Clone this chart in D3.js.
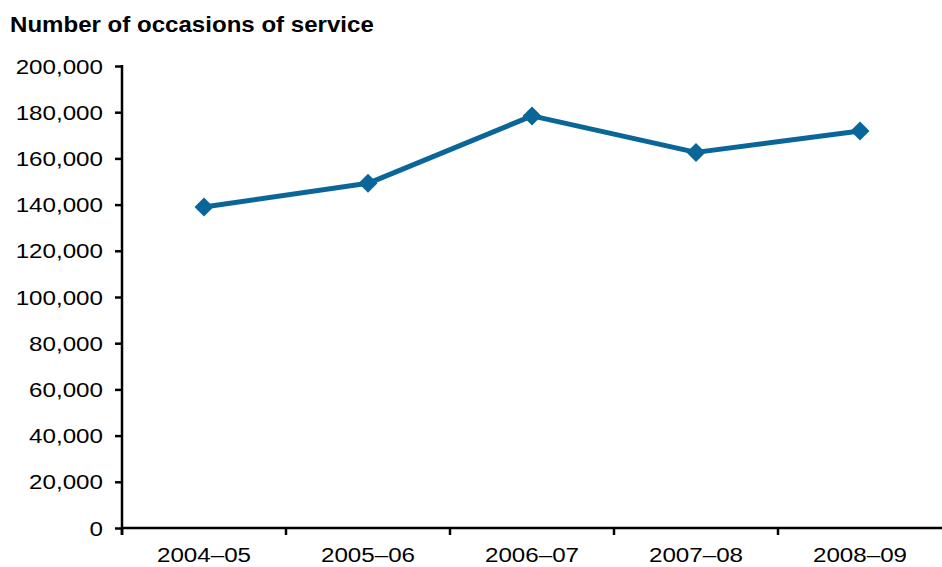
<!DOCTYPE html>
<html>
<head>
<meta charset="utf-8">
<script src="https://cdn.jsdelivr.net/npm/d3@7"></script>
<style>
  body { margin: 0; background: #fff; }
  svg text { font-family: "Liberation Sans", Arial, sans-serif; fill: #000; }
</style>
</head>
<body>
<div class="container"></div>
<script>
var years = ["2004\u201305", "2005\u201306", "2006\u201307", "2007\u201308", "2008\u201309"];
var services = [139000, 149200, 178400, 162600, 171900];
var yTicks = [0, 20000, 40000, 60000, 80000, 100000, 120000, 140000, 160000, 180000, 200000];

var w = 942, h = 567;
var mLeft = 122, mRight = 942, mTop = 66, mBottom = 528;
var stretch = 1.24; // the reference text is drawn wide

var svg = d3.select(".container")
  .append("svg")
  .attr("width", w)
  .attr("height", h);

svg.append("text")
  .attr("transform", "translate(10,32) scale(1.12,1)")
  .style("font-size", "21.5px")
  .style("font-weight", "bold")
  .text("Number of occasions of service");

var xScale = d3.scaleBand().domain(years).range([mLeft, mRight]);
var yScale = d3.scaleLinear().domain([0, 200000]).range([mBottom, mTop]);

// y axis
var yAxis = d3.axisLeft(yScale)
  .tickValues(yTicks)
  .tickSize(7)
  .tickFormat(d3.format(","));
var yg = svg.append("g")
  .attr("transform", "translate(" + mLeft + ",0)")
  .call(yAxis);
yg.select(".domain").remove();
yg.append("line")
  .attr("x1", 0).attr("x2", 0)
  .attr("y1", yScale(200000) - 1).attr("y2", mBottom + 7)
  .attr("stroke", "#000").attr("stroke-width", 2.5);
yg.selectAll(".tick line").attr("stroke", "#000").attr("stroke-width", 2.5);
yg.selectAll(".tick text")
  .attr("x", 0)
  .attr("dy", "0.36em")
  .attr("text-anchor", "end")
  .attr("transform", "translate(-19,0) scale(" + stretch + ",1)")
  .style("font-size", "19.5px")
  .attr("fill", "#000");

// x axis, ticks at band boundaries
var xg = svg.append("g")
  .attr("transform", "translate(0," + mBottom + ")");
xg.append("line")
  .attr("x1", mLeft - 1).attr("x2", mRight)
  .attr("stroke", "#000").attr("stroke-width", 2.5);
xg.selectAll(".xtick")
  .data(years)
  .enter()
  .append("line")
  .attr("class", "xtick")
  .attr("x1", (d) => xScale(d)).attr("x2", (d) => xScale(d))
  .attr("y1", 0).attr("y2", 7)
  .attr("stroke", "#000").attr("stroke-width", 2.5);
xg.selectAll(".xlabel")
  .data(years)
  .enter()
  .append("text")
  .attr("class", "xlabel")
  .attr("text-anchor", "middle")
  .attr("transform", (d) => "translate(" + (xScale(d) + xScale.bandwidth() / 2) + ",34) scale(" + stretch + ",1)")
  .style("font-size", "19.5px")
  .text((d) => d);

// line
var cx = (d, i) => xScale(years[i]) + xScale.bandwidth() / 2;
var line = d3.line()
  .x((d, i) => cx(d, i))
  .y((d) => yScale(d));

svg.append("path")
  .datum(services)
  .attr("d", line)
  .attr("fill", "none")
  .attr("stroke", "#0a6698")
  .attr("stroke-width", 5)
  .attr("stroke-linejoin", "round");

var diamond = d3.symbol().type(d3.symbolDiamond2).size(230);
svg.selectAll(".marker")
  .data(services)
  .enter()
  .append("path")
  .attr("class", "marker")
  .attr("d", diamond)
  .attr("transform", (d, i) => "translate(" + cx(d, i) + "," + yScale(d) + ")")
  .attr("fill", "#0a6698");
</script>
</body>
</html>
